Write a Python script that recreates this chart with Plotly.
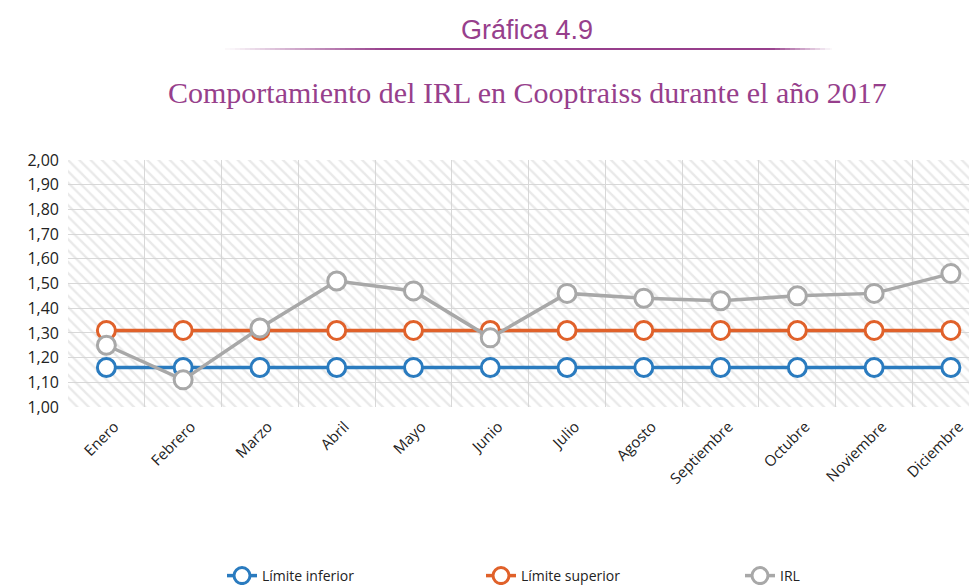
import plotly.graph_objects as go

meses = ["Enero", "Febrero", "Marzo", "Abril", "Mayo", "Junio", "Julio",
         "Agosto", "Septiembre", "Octubre", "Noviembre", "Diciembre"]
limite_inferior = [1.16] * 12
limite_superior = [1.31] * 12
irl = [1.25, 1.11, 1.32, 1.51, 1.47, 1.28, 1.46, 1.44, 1.43, 1.45, 1.46, 1.54]
y_ticks = [1.0, 1.1, 1.2, 1.3, 1.4, 1.5, 1.6, 1.7, 1.8, 1.9, 2.0]
y_min, y_max = 1.0, 2.0

x_idx = list(range(len(meses)))
purple = "#973f8c"

# page shows the figure offset by 8px (body margin); compensate
OFF = 8
W, H = 977 - OFF, 585 - OFF
ML, MR, MT = 68 - OFF, 0, 160 - OFF
MB = H - (407 - OFF)
PW, PH = W - ML - MR, H - MT - MB

fig = go.Figure()

# hatched background: transparent bars with diagonal pattern across the plot area
fig.add_trace(go.Bar(
    x=x_idx, y=[y_max - y_min] * len(x_idx), base=y_min, width=1,
    marker=dict(color="rgba(0,0,0,0)", line=dict(width=0),
                pattern=dict(shape="\\", fgcolor="#d4d4d4",
                             bgcolor="rgba(0,0,0,0)", size=8, solidity=0.3,
                             fillmode="overlay")),
    hoverinfo="skip", showlegend=False))

series = [
    ("Límite inferior", limite_inferior, "#2a7bbf"),
    ("Límite superior", limite_superior, "#e0612a"),
    ("IRL", irl, "#a8a8a8"),
]
for name, vals, col in series:
    fig.add_trace(go.Scatter(
        x=x_idx, y=vals, name=name, mode="lines+markers",
        line=dict(color=col, width=3.5),
        marker=dict(symbol="circle", size=18, color="white",
                    line=dict(color=col, width=3))))

def px_x(p):
    return (p - OFF - ML) / PW

def px_y(p):
    return (H - MB - (p - OFF)) / PH

# gradient rule under the heading (long fade-in on the left, short fade-out on the right)
a0, a1 = 225, 832
fade_in_end, fade_out_start = 385, 770
step = 5
x = a0
while x < a1:
    xe = min(x + step, a1)
    m = (x + xe) / 2
    if m < fade_in_end:
        op = (m - a0) / (fade_in_end - a0)
    elif m > fade_out_start:
        op = (a1 - m) / (a1 - fade_out_start)
    else:
        op = 1.0
    fig.add_shape(type="line", xref="paper", yref="paper",
                  x0=px_x(x), x1=px_x(xe), y0=px_y(49), y1=px_y(49),
                  line=dict(color=purple, width=2), opacity=max(0.03, op))
    x = xe

fig.add_annotation(text="Gráfica 4.9", xref="paper", yref="paper",
                   x=px_x(527), y=px_y(30),
                   showarrow=False, xanchor="center", yanchor="middle",
                   font=dict(family="Liberation Sans", size=27, color=purple))
fig.add_annotation(text="Comportamiento del IRL en Cooptraiss durante el año 2017",
                   xref="paper", yref="paper",
                   x=px_x(527), y=px_y(92),
                   showarrow=False, xanchor="center", yanchor="middle",
                   font=dict(family="Liberation Serif", size=30, color=purple))

fig.update_layout(
    width=W, height=H,
    margin=dict(l=ML, r=MR, t=MT, b=MB, autoexpand=False),
    paper_bgcolor="white", plot_bgcolor="white",
    separators=",.",
    showlegend=True,
    bargap=0,
    legend=dict(orientation="h", x=px_x(222), xanchor="left", y=px_y(576),
                yanchor="middle", entrywidth=214, entrywidthmode="pixels",
                font=dict(family="Open Sans", size=14, color="#222222"),
                traceorder="normal"),
    xaxis=dict(range=[-0.5, 11.34], tickmode="array", tickvals=x_idx,
               ticktext=meses, tickangle=-45, showgrid=False, zeroline=False,
               showline=False, ticks="", automargin=False,
               ticklabelshift=8, ticklabelstandoff=7,
               tickfont=dict(family="Open Sans", size=15, color="#222222"),
               minor=dict(tickmode="array",
                          tickvals=[i - 0.5 for i in x_idx] + [len(x_idx) - 0.5],
                          showgrid=True, gridcolor="#d8d8d8", gridwidth=1,
                          ticks="")),
    yaxis=dict(range=[y_min, y_max], tickmode="array", tickvals=y_ticks,
               tickformat=".2f", showgrid=True, gridcolor="#d8d8d8",
               gridwidth=1, zeroline=False, showline=False, ticks="",
               automargin=False, ticklabelstandoff=8,
               tickfont=dict(family="Open Sans", size=16, color="#222222")),
)

fig.write_html("out.html")
